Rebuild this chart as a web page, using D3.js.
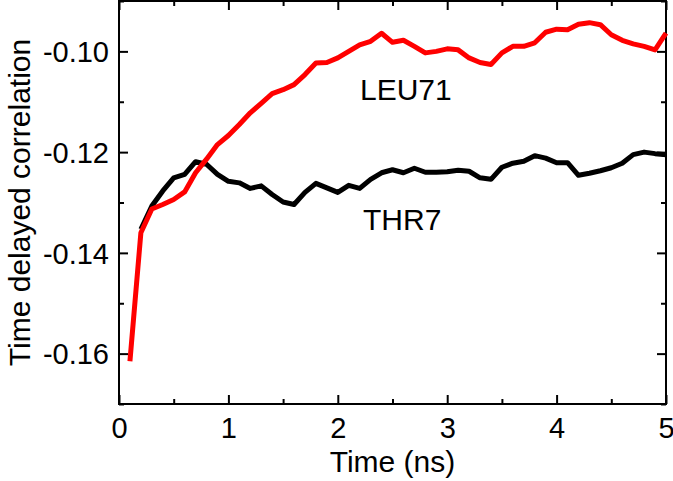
<!DOCTYPE html>
<html>
<head>
<meta charset="utf-8">
<script src="https://cdn.jsdelivr.net/npm/d3@7"></script>
<style>
body { margin: 0; background: #fff; }
svg text { font-family: "Liberation Sans", Arial, sans-serif; fill: #000; }
</style>
</head>
<body>
<svg id="svg1" width="673" height="481"></svg>
<script>
// time in ns, 0.1 step
var TimeValues = [0.1,0.2,0.3,0.4,0.5,0.6,0.7,0.8,0.9,1.0,
    1.1,1.2,1.3,1.4,1.5,1.6,1.7,1.8,1.9,2.0,
    2.1,2.2,2.3,2.4,2.5,2.6,2.7,2.8,2.9,3.0,
    3.1,3.2,3.3,3.4,3.5,3.6,3.7,3.8,3.9,4.0,
    4.1,4.2,4.3,4.4,4.5,4.6,4.7,4.8,4.9,5.0];

var Leu71Values = [-0.1615,-0.1360,-0.1313,-0.1304,-0.1294,-0.1279,-0.1241,-0.1214,-0.1185,-0.1167,
    -0.1145,-0.1122,-0.1103,-0.1084,-0.1076,-0.1066,-0.1046,-0.1023,-0.1022,-0.1013,
    -0.1000,-0.0987,-0.0980,-0.0964,-0.0982,-0.0978,-0.0990,-0.1003,-0.1000,-0.0995,
    -0.0997,-0.1013,-0.1022,-0.1026,-0.1003,-0.0990,-0.0990,-0.0983,-0.0962,-0.0956,
    -0.0957,-0.0946,-0.0943,-0.0947,-0.0967,-0.0978,-0.0985,-0.0990,-0.0997,-0.0964];

var Thr7Times = TimeValues.slice(1);
var Thr7Values = [-0.1353,-0.1307,-0.1277,-0.1251,-0.1244,-0.1219,-0.1224,-0.1244,-0.1258,
    -0.1261,-0.1272,-0.1267,-0.1284,-0.1299,-0.1304,-0.1280,-0.1262,-0.1271,-0.1280,
    -0.1266,-0.1272,-0.1254,-0.1241,-0.1235,-0.1241,-0.1232,-0.1240,-0.1240,-0.1239,
    -0.1236,-0.1238,-0.1251,-0.1254,-0.1230,-0.1222,-0.1218,-0.1207,-0.1212,-0.1221,
    -0.1221,-0.1246,-0.1242,-0.1237,-0.1231,-0.1222,-0.1205,-0.1200,-0.1203,-0.1205];

var XMajorTicks = [0,1,2,3,4,5];
var XMinorTicks = [0.5,1.5,2.5,3.5,4.5];
var YMajorTicks = [-0.16,-0.14,-0.12,-0.10];
var YMinorTicks = [-0.17,-0.15,-0.13,-0.11,-0.09];

var margin = {left: 119, top: 1, right: 7, bottom: 77};
var width = 673 - margin.left - margin.right;
var height = 481 - margin.top - margin.bottom;

var svg = d3.select("#svg1");
var g = svg.append("g").attr("transform", "translate(" + margin.left + "," + margin.top + ")");

var x = d3.scaleLinear().domain([0, 5]).range([0, width]);
var y = d3.scaleLinear().domain([-0.17, -0.09]).range([height, 0]);

function DrawAxis(axisFn, scale, ticks, size, labels, transform) {
    var ax = g.append("g")
        .attr("transform", transform)
        .call(axisFn(scale).tickValues(ticks).tickSizeInner(size).tickSizeOuter(0)
            .tickFormat(labels ? function(d){ return labels(d); } : ""));
    ax.select(".domain").remove();
    ax.selectAll(".tick line").attr("stroke", "#000").attr("stroke-width", 2);
    return ax;
}

// ticks inward on all four sides
var bx = DrawAxis(d3.axisBottom, x, XMajorTicks, -9, function(d){ return d3.format("d")(d); }, "translate(0," + height + ")");
DrawAxis(d3.axisBottom, x, XMinorTicks, -5, null, "translate(0," + height + ")");
DrawAxis(d3.axisTop, x, XMajorTicks, -9, null, "translate(0,0)");
DrawAxis(d3.axisTop, x, XMinorTicks, -5, null, "translate(0,0)");
var ly = DrawAxis(d3.axisLeft, y, YMajorTicks, -9, function(d){ return d3.format(".2f")(d).replace("−", "-"); }, "translate(0,0)");
DrawAxis(d3.axisLeft, y, YMinorTicks, -5, null, "translate(0,0)");
DrawAxis(d3.axisRight, y, YMajorTicks, -9, null, "translate(" + width + ",0)");
DrawAxis(d3.axisRight, y, YMinorTicks, -5, null, "translate(" + width + ",0)");

bx.selectAll(".tick text")
    .attr("y", 13)
    .attr("dy", "0.71em")
    .style("font-size", "29px");
ly.selectAll(".tick text")
    .attr("x", -10)
    .attr("dy", "0.35em")
    .style("font-size", "29px");

g.append("rect")
    .attr("width", width).attr("height", height)
    .attr("fill", "none").attr("stroke", "#000").attr("stroke-width", 2);

var line = d3.line()
    .x(function(d){ return x(d[0]); })
    .y(function(d){ return y(d[1]); });

var leuData = TimeValues.map(function(t, i){ return [t, Leu71Values[i]]; });
var thrData = Thr7Times.map(function(t, i){ return [t, Thr7Values[i]]; });

g.append("path").datum(thrData)
    .attr("d", line).attr("fill", "none")
    .attr("stroke", "#000").attr("stroke-width", 5).attr("stroke-linejoin", "round");
g.append("path").datum(leuData)
    .attr("d", line).attr("fill", "none")
    .attr("stroke", "#ff0000").attr("stroke-width", 5).attr("stroke-linejoin", "round");

g.append("text").attr("x", 360 - margin.left).attr("y", 100 - margin.top)
    .style("font-size", "30px").text("LEU71");
g.append("text").attr("x", 363 - margin.left).attr("y", 230 - margin.top)
    .style("font-size", "30px").text("THR7");

svg.append("text")
    .attr("x", margin.left + width / 2).attr("y", 472)
    .attr("text-anchor", "middle")
    .style("font-size", "30px").text("Time (ns)");

svg.append("text")
    .attr("transform", "translate(30," + (margin.top + height / 2) + ") rotate(-90)")
    .attr("text-anchor", "middle")
    .style("font-size", "30px").text("Time delayed correlation");
</script>
</body>
</html>
